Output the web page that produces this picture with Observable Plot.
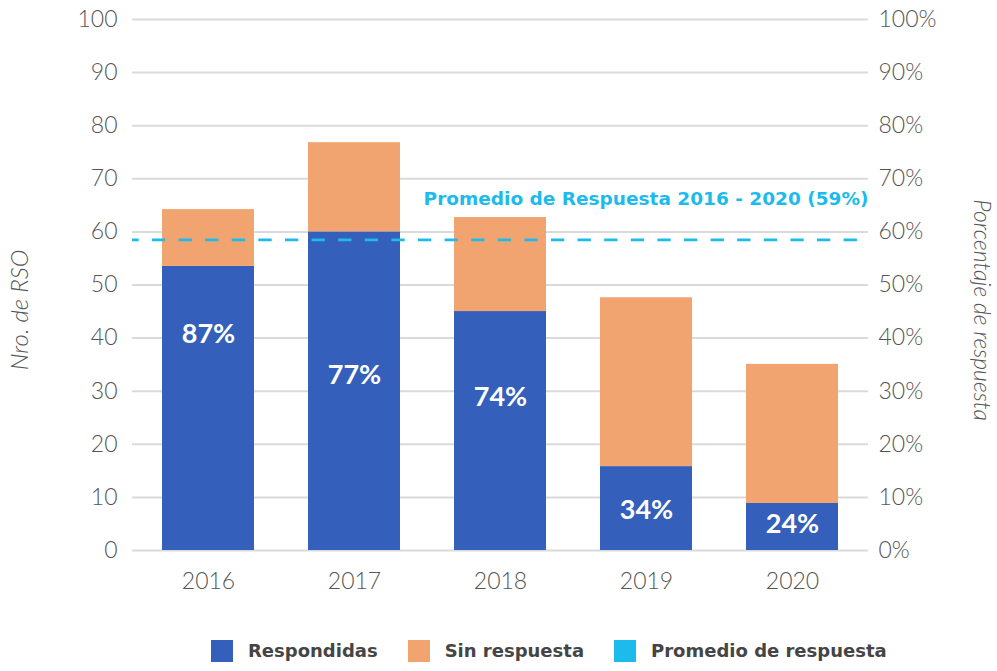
<!DOCTYPE html>
<html>
<head>
<meta charset="utf-8">
<script src="https://cdn.jsdelivr.net/npm/d3@7"></script>
<script src="https://cdn.jsdelivr.net/npm/@observablehq/plot@0.6"></script>
<style>
  html, body { margin: 0; padding: 0; background: #fff; }
  #chart { width: 997px; }
  .legend { display: flex; align-items: center; height: 41px; padding-left: 211px; box-sizing: border-box; font-family: "DejaVu Sans", sans-serif; font-weight: 700; font-size: 18px; color: #454545; }
  .legend .item { display: flex; align-items: center; }
  .legend .sw { width: 22px; height: 22px; margin-right: 15px; }
</style>
</head>
<body>
<div id="chart"></div>
<script>
const years = ["2016", "2017", "2018", "2019", "2020"];
const respondidas = [53.5, 60, 45, 15.8, 8.85];
const sinRespuesta = [10.7, 16.8, 17.7, 31.8, 26.2];
const pctLabels = ["87%", "77%", "74%", "34%", "24%"];
const pctLabelAt = [40.7, 33, 28.8, 7.5, 4.9];
const promedio = 58.5;
const promedioLabel = "Promedio de Respuesta 2016 - 2020 (59%)";
const yTicks = [0, 10, 20, 30, 40, 50, 60, 70, 80, 90, 100];
const seriesNames = ["Respondidas", "Sin respuesta"];
const legendNames = ["Respondidas", "Sin respuesta", "Promedio de respuesta"];
const leftTitle = "Nro. de RSO";
const rightTitle = "Porcentaje de respuesta";

const colors = ["#345fba", "#f2a470"];
const cyan = "#1dbbeb";
const legendGaps = [30, 30, 0];

const rows = [];
years.forEach((yr, i) => {
  rows.push({year: yr, serie: seriesNames[0], value: respondidas[i]});
  rows.push({year: yr, serie: seriesNames[1], value: sinRespuesta[i]});
});
const labels = years.map((yr, i) => ({year: yr, at: pctLabelAt[i], text: pctLabels[i]}));

const chart = Plot.plot({
  width: 997,
  height: 630,
  marginTop: 19,
  marginLeft: 132,
  marginRight: 129,
  marginBottom: 80,
  style: {fontFamily: "Lato, sans-serif", background: "white", overflow: "visible"},
  x: {domain: years, paddingInner: 0.373, paddingOuter: 0.19, axis: null},
  y: {domain: [0, 100], axis: null},
  color: {domain: seriesNames, range: colors},
  marks: [
    Plot.gridY(yTicks, {stroke: "#dadada", strokeOpacity: 1, strokeWidth: 2}),
    Plot.axisY(yTicks, {anchor: "left", tickSize: 0, tickPadding: 15, fontSize: 23, fontWeight: 300, color: "#555", label: null}),
    Plot.axisY(yTicks, {anchor: "right", tickSize: 0, tickPadding: 10, fontSize: 23, fontWeight: 300, color: "#555", label: null, tickFormat: d => d + "%"}),
    Plot.axisX({tickSize: 0, tickPadding: 22, fontSize: 23, fontWeight: 300, color: "#555", label: null}),
    Plot.barY(rows, {x: "year", y: "value", fill: "serie"}),
    Plot.ruleY([promedio], {stroke: cyan, strokeWidth: 2.7, strokeDasharray: "13.3,13.3", strokeDashoffset: 6.6}),
    Plot.text([promedioLabel], {frameAnchor: "right", y: promedio, dy: -41, textAnchor: "end", fill: cyan, fontWeight: 700, fontSize: 18.5, fontFamily: "DejaVu Sans, sans-serif"}),
    Plot.text(labels, {x: "year", y: "at", text: "text", fill: "white", fontWeight: 700, fontSize: 27}),
    Plot.text([leftTitle], {frameAnchor: "left", dx: -112, dy: 25, rotate: -90, textAnchor: "middle", fontStyle: "italic", fontWeight: 300, fontSize: 24, fill: "#555"}),
    Plot.text([rightTitle], {frameAnchor: "right", dx: 113, dy: 25, rotate: 90, textAnchor: "middle", fontStyle: "italic", fontWeight: 300, fontSize: 23, fill: "#555"})
  ]
});
document.getElementById("chart").appendChild(chart);

const legend = document.createElement("div");
legend.className = "legend";
const legendColors = [colors[0], colors[1], cyan];
legendNames.forEach((name, i) => {
  const item = document.createElement("div");
  item.className = "item";
  item.style.marginRight = legendGaps[i] + "px";
  const sw = document.createElement("span");
  sw.className = "sw";
  sw.style.background = legendColors[i];
  const t = document.createElement("span");
  t.textContent = name;
  item.appendChild(sw);
  item.appendChild(t);
  legend.appendChild(item);
});
document.getElementById("chart").appendChild(legend);
</script>
</body>
</html>
